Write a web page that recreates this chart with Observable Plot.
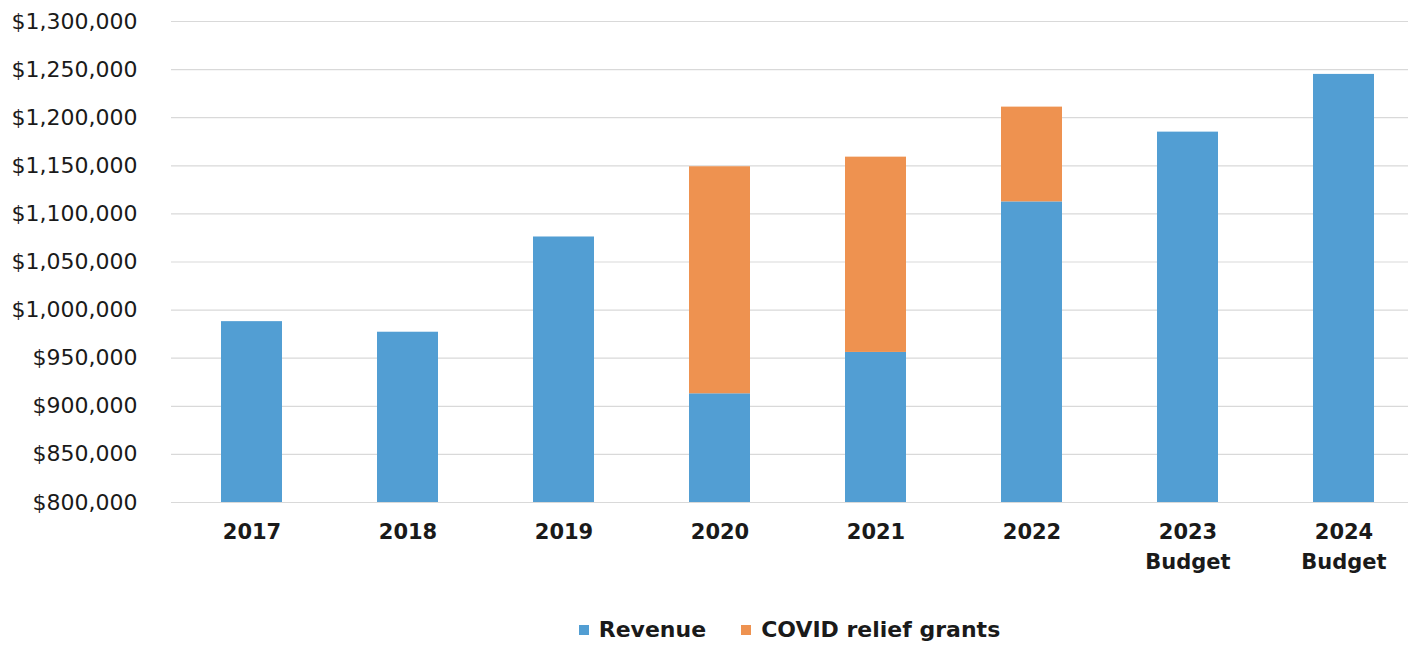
<!DOCTYPE html>
<html>
<head>
<meta charset="utf-8">
<script src="https://cdn.jsdelivr.net/npm/d3@7"></script>
<script src="https://cdn.jsdelivr.net/npm/@observablehq/plot@0.6"></script>
<style>
  html, body { margin: 0; padding: 0; background: #fff; }
  #chart { width: 1408px; }
  .legend { height: 41px; padding-left: 171px; box-sizing: border-box; width: 1408px; display: flex; justify-content: center; align-items: center; font-family: "DejaVu Sans", Verdana, sans-serif; font-weight: bold; font-size: 22px; color: #1a1a1a; padding-top: 8px; }
  .legend span.item { display: inline-flex; align-items: center; }
  .legend span.sw { display: inline-block; width: 10px; height: 10px; margin-right: 10px; }
</style>
</head>
<body>
<div id="chart"></div>
<script>
const years = ["2017", "2018", "2019", "2020", "2021", "2022", "2023\nBudget", "2024\nBudget"];
const revenue = [988000, 977000, 1076000, 913000, 956000, 1112500, 1185000, 1245000];
const covid = [0, 0, 0, 236000, 203000, 98500, 0, 0];
const seriesNames = ["Revenue", "COVID relief grants"];
const seriesColors = ["#529ed3", "#ee9250"];
const yTicks = [800000, 850000, 900000, 950000, 1000000, 1050000, 1100000, 1150000, 1200000, 1250000, 1300000];

const rows = [];
years.forEach((yr, i) => {
  rows.push({year: yr, series: seriesNames[0], value: revenue[i]});
  rows.push({year: yr, series: seriesNames[1], value: covid[i]});
});

const fmt = d3.format("$,.0f");

const plot = Plot.plot({
  width: 1408,
  height: 605,
  marginLeft: 171,
  marginRight: 0,
  marginTop: 21,
  marginBottom: 103,
  style: {fontFamily: "'DejaVu Sans', Verdana, sans-serif", background: "#fff"},
  x: {domain: years, paddingInner: 0.607, paddingOuter: 0.2555, align: 0.6, label: null},
  y: {domain: [800000, 1300000], label: null},
  color: {domain: seriesNames, range: seriesColors},
  marks: [
    Plot.ruleY(yTicks, {stroke: "#d9d9d9", strokeWidth: 1.2}),
    Plot.barY(rows, Plot.stackY({x: "year", y: "value", fill: "series", clip: true})),
    Plot.axisY({ticks: yTicks, tickSize: 0, tickPadding: 34, tickFormat: fmt, fontSize: 22, fill: "#1a1a1a", label: null}),
    Plot.axisX({tickSize: 0, tickPadding: 15, fontSize: 21, fontWeight: "bold", lineHeight: 1.43, fill: "#1a1a1a", label: null})
  ]
});
document.getElementById("chart").appendChild(plot);

const legend = document.createElement("div");
legend.className = "legend";
seriesNames.forEach((n, i) => {
  const item = document.createElement("span");
  item.className = "item";
  if (i > 0) item.style.marginLeft = "35px";
  const sw = document.createElement("span");
  sw.className = "sw";
  sw.style.background = seriesColors[i];
  item.appendChild(sw);
  item.appendChild(document.createTextNode(n));
  legend.appendChild(item);
});
document.getElementById("chart").appendChild(legend);
</script>
</body>
</html>
